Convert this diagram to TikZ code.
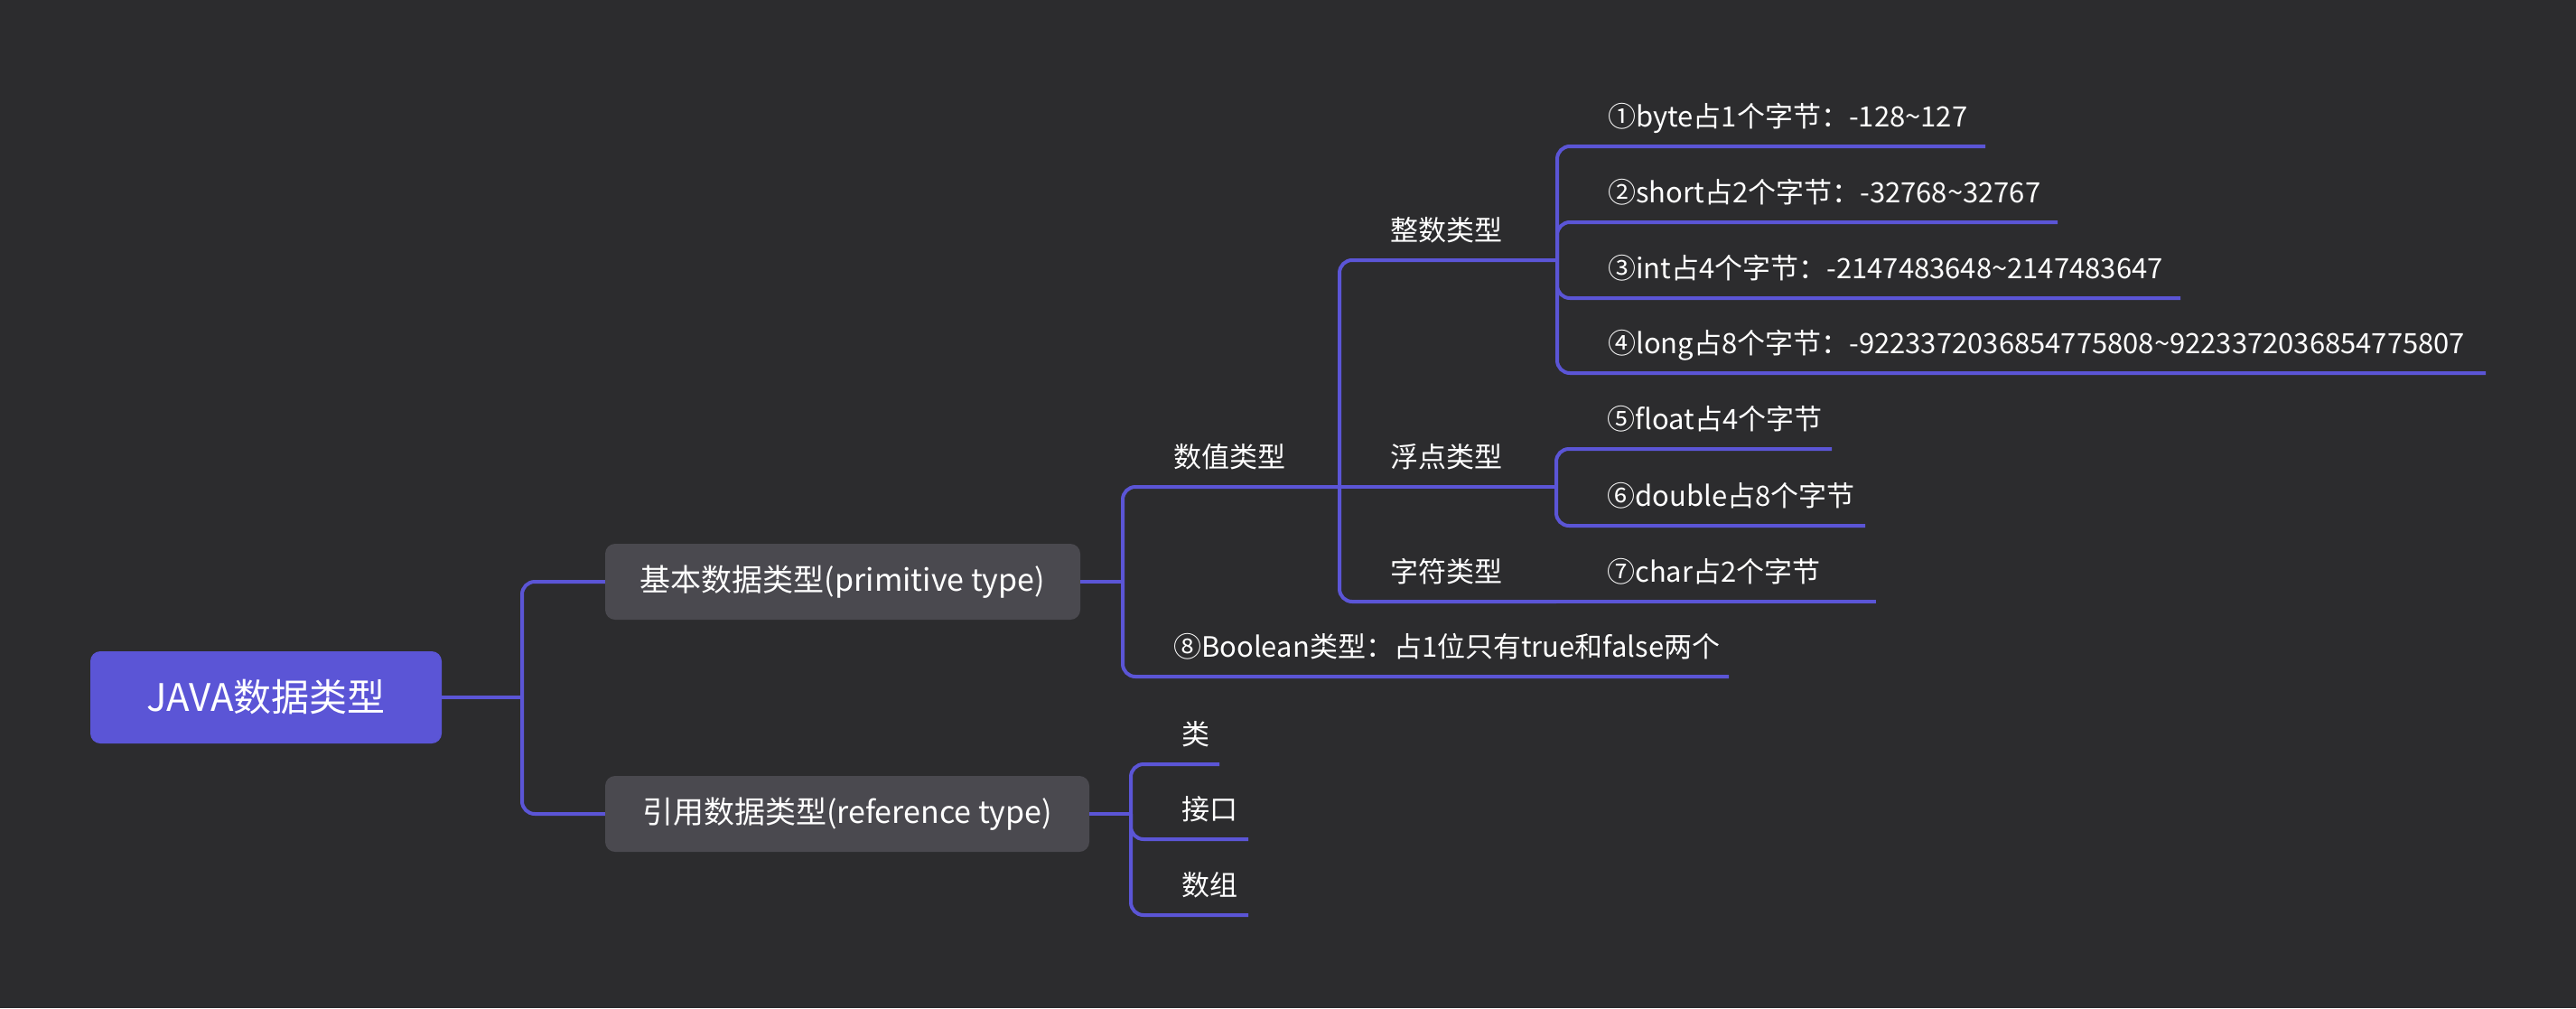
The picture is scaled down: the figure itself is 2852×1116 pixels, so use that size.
\documentclass[tikz,border=0pt]{standalone}
\usepackage{fontspec}
\setmainfont{Noto Sans CJK SC}
\definecolor{bg}{HTML}{2C2C2E}
\definecolor{vio}{HTML}{5B55D6}
\definecolor{boxgray}{HTML}{4A494F}
\tikzset{
  link/.style={draw=vio, line width=4pt, rounded corners=14pt},
  txt/.style={text=white, inner sep=0pt, anchor=base west, font=\fontsize{31}{37}\selectfont},
  rootbox/.style={fill=vio, rounded corners=11pt, minimum width=389pt, minimum height=102pt, inner sep=0pt, text=white, font=\fontsize{42}{48}\selectfont},
  catbox/.style={fill=boxgray, rounded corners=11pt, minimum height=84pt, inner sep=0pt, text=white, font=\fontsize{34}{40}\selectfont}
}
\begin{document}
\begin{tikzpicture}[x=1pt,y=-1pt]
\useasboundingbox (0,0) rectangle (2852,1116);
\fill[bg] (0,0) rectangle (2852,1116);

% main nodes
\node[rootbox] (root) at (294.5,772) {JAVA数据类型};
\node[catbox, minimum width=526pt] (prim) at (933,644) {基本数据类型(primitive type)};
\node[catbox, minimum width=536pt] (ref) at (938,901) {引用数据类型(reference type)};

% coordinates
\coordinate (t0) at (578,772);
\coordinate (t1) at (1243,644);
\coordinate (t2) at (1252,901);
\coordinate (enum) at (1483,539);
\coordinate (ebool) at (1914,749);
\coordinate (eint) at (1724,288);
\coordinate (eflt) at (1723,539);
\coordinate (echr) at (1723,666);
\coordinate (e1) at (2198,162);
\coordinate (e2) at (2278,246);
\coordinate (e3) at (2414,330);
\coordinate (e4) at (2752,413);
\coordinate (e5) at (2028,497);
\coordinate (e6) at (2065,582);
\coordinate (e7) at (2077,666);
\coordinate (ec1) at (1350,846);
\coordinate (ec2) at (1382,929);
\coordinate (ec3) at (1382,1013);

% connectors
\draw[link] (root.east) -- (t0);
\draw[link] (t0) |- (prim.west);
\draw[link] (t0) |- (ref.west);
\draw[link] (prim.east) -- (t1);
\draw[link] (t1) |- (enum);
\draw[link] (t1) |- (ebool);
\draw[link] (enum) |- (eint);
\draw[link] (enum) -- (eflt);
\draw[link] (enum) |- (echr);
\draw[link] (echr) -- (e7);
\draw[link] (eint) |- (e1);
\draw[link] (eint) |- (e2);
\draw[link] (eint) |- (e3);
\draw[link] (eint) |- (e4);
\draw[link] (eflt) |- (e5);
\draw[link] (eflt) |- (e6);
\draw[link] (ref.east) -- (t2);
\draw[link] (t2) |- (ec1);
\draw[link] (t2) |- (ec2);
\draw[link] (t2) |- (ec3);

% labels
\node[txt] (num) at (1299,517) {数值类型};
\node[txt] (bool) at (1299,727) {⑧Boolean类型：占1位只有true和false两个};
\node[txt] (int) at (1539,266) {整数类型};
\node[txt] (flt) at (1539,517) {浮点类型};
\node[txt] (chr) at (1539,644) {字符类型};
\node[txt] (n1) at (1780,140) {①byte占1个字节：-128\char`\~127};
\node[txt] (n2) at (1780,224) {②short占2个字节：-32768\char`\~32767};
\node[txt] (n3) at (1780,308) {③int占4个字节：-2147483648\char`\~2147483647};
\node[txt] (n4) at (1780,391) {④long占8个字节：-9223372036854775808\char`\~9223372036854775807};
\node[txt] (n5) at (1779,475) {⑤float占4个字节};
\node[txt] (n6) at (1779,560) {⑥double占8个字节};
\node[txt] (n7) at (1779,644) {⑦char占2个字节};
\node[txt] (c1) at (1308,824) {类};
\node[txt] (c2) at (1308,907) {接口};
\node[txt] (c3) at (1308,991) {数组};
\end{tikzpicture}
\end{document}
